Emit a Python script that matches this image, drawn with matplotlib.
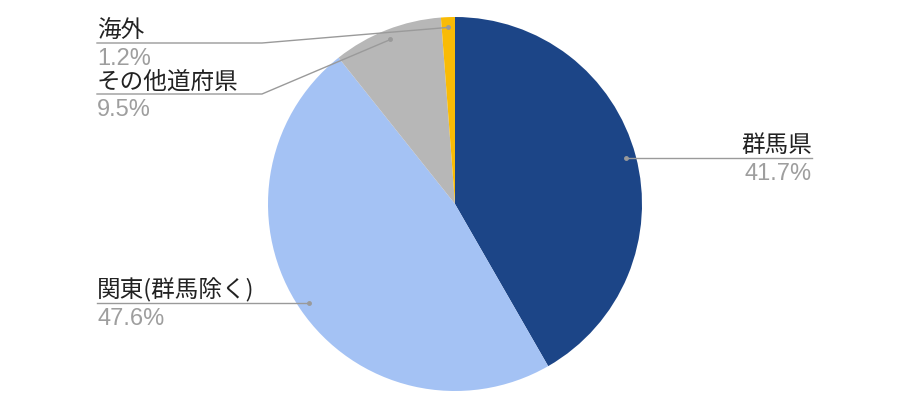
import numpy as np
import matplotlib
matplotlib.use("Agg")
import matplotlib.pyplot as plt

plt.rcParams['font.family'] = ['Noto Sans CJK JP', 'DejaVu Sans']

labels = ['群馬県', '関東(群馬除く)', 'その他道府県', '海外']
values = [41.7, 47.6, 9.5, 1.2]
colors = ['#1c4587', '#a4c2f4', '#b7b7b7', '#f9bb05']

W, H = 908, 414
fig = plt.figure(figsize=(W / 100, H / 100), dpi=100)
ax = fig.add_axes([0, 0, 1, 1])

cx, cy, R = 455, H - 205, 187
wedges, _ = ax.pie(values, colors=colors, startangle=90, counterclock=False,
                   center=(cx, cy), radius=R, frame=True,
                   wedgeprops=dict(linewidth=0))
ax.set_xlim(0, W)
ax.set_ylim(0, H)
ax.axis('off')

def py(y):
    return H - y

# label layout: (elbow x, line y, line end x, text anchor x, ha)
layout = [
    (None, 159, 812, 812, 'right'),
    (None, 304, 97, 97, 'left'),
    (262, 95, 97, 97, 'left'),
    (262, 44, 97, 97, 'left'),
]
lc = '#9a9a9a'
for w, lab, val, (ex, ly, endx, tx, ha) in zip(wedges, labels, values, layout):
    ang = np.deg2rad((w.theta1 + w.theta2) / 2)
    dx = cx + 0.945 * R * np.cos(ang)
    dy = cy + 0.945 * R * np.sin(ang)
    ax.plot([dx], [dy], 'o', color=lc, ms=2.5, zorder=5)
    if ex is None:
        ax.plot([dx, endx], [py(ly), py(ly)], color=lc, lw=1, zorder=4)
    else:
        ax.plot([dx, ex, endx], [dy, py(ly), py(ly)], color=lc, lw=1, zorder=4)
    ax.text(tx, py(ly) + 6.5, lab, ha=ha, va='baseline', fontsize=17,
            color='#222222')
    ax.text(tx, py(ly) - 21, f'{val:.1f}%', ha=ha, va='baseline', fontsize=17,
            color='#9e9e9e', family=['Liberation Sans', 'DejaVu Sans'])

fig.savefig('out.png', dpi=100)
